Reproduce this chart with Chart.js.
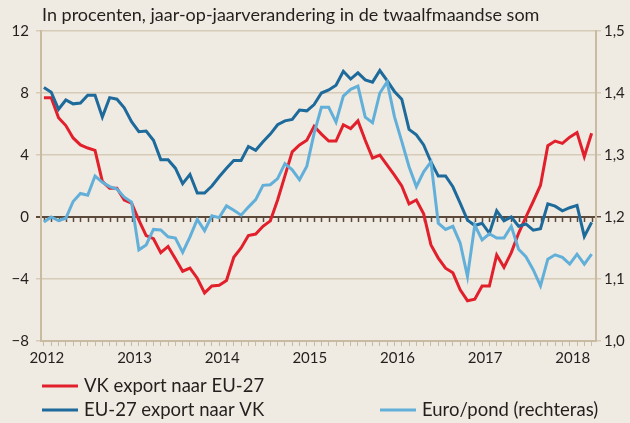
<!DOCTYPE html>
<html>
<head>
<meta charset="utf-8">
<script src="https://cdn.jsdelivr.net/npm/chart.js@4"></script>
<style>
  html, body { margin: 0; padding: 0; background: #efebe3; }
  canvas { display: block; }
</style>
</head>
<body>
<canvas id="chart" width="630" height="423"></canvas>
<script>
// maanden vanaf januari 2012 (index 0) t/m april 2018 (index 75)
const yearLabels = ["2012", "2013", "2014", "2015", "2016", "2017", "2018"];

const vkExport = [
  7.7, 7.7, 6.4, 5.9, 5.1, 4.65, 4.45, 4.3, 2.3, 1.85, 1.85, 1.1,
  0.9, -0.2, -1.2, -1.4, -2.3, -1.9, -2.7, -3.5, -3.3, -3.95, -4.9, -4.45,
  -4.4, -4.1, -2.6, -2.0, -1.2, -1.1, -0.6, -0.25, 1.1, 2.65, 4.2, 4.65,
  4.95, 5.85, 5.35, 4.9, 4.9, 5.95, 5.7, 6.2, 4.95, 3.8, 4.0, 3.35,
  2.7, 2.0, 0.85, 1.1, 0.2, -1.8, -2.65, -3.3, -3.6, -4.7, -5.4, -5.3,
  -4.45, -4.45, -2.45, -3.25, -2.3, -1.05, 0.0, 1.0, 2.05, 4.6, 4.9, 4.75,
  5.15, 5.45, 3.9, 5.4
];

const euExport = [
  8.35, 8.05, 6.95, 7.55, 7.3, 7.35, 7.85, 7.85, 6.45, 7.7, 7.6, 7.05,
  6.15, 5.5, 5.55, 4.95, 3.7, 3.7, 3.15, 2.15, 2.75, 1.55, 1.55, 2.0,
  2.6, 3.15, 3.65, 3.65, 4.55, 4.3, 4.85, 5.35, 5.95, 6.2, 6.3, 6.9,
  6.85, 7.25, 8.0, 8.2, 8.5, 9.4, 8.9, 9.3, 8.85, 8.7, 9.45, 8.8,
  8.1, 7.6, 5.65, 5.3, 4.65, 3.55, 2.65, 2.65, 1.95, 0.9, -0.2, -0.55,
  -0.4, -1.05, 0.4, -0.25, 0.0, -0.6, -0.45, -0.85, -0.75, 0.85, 0.7, 0.4,
  0.6, 0.75, -1.25, -0.35
];

// Euro/pond, rechteras
const euroPond = [
  1.192, 1.200, 1.194, 1.198, 1.225, 1.238, 1.235, 1.266, 1.256, 1.249, 1.245, 1.232,
  1.224, 1.147, 1.155, 1.180, 1.179, 1.168, 1.166, 1.143, 1.168, 1.196, 1.178, 1.202,
  1.199, 1.218, 1.211, 1.203, 1.216, 1.228, 1.251, 1.252, 1.262, 1.286, 1.276, 1.260,
  1.282, 1.335, 1.377, 1.377, 1.353, 1.395, 1.406, 1.411, 1.361, 1.352, 1.400, 1.418,
  1.362, 1.322, 1.281, 1.249, 1.273, 1.289, 1.190, 1.180, 1.185, 1.158, 1.104, 1.187,
  1.163, 1.173, 1.166, 1.166, 1.185, 1.148, 1.136, 1.115, 1.089, 1.132, 1.139, 1.135,
  1.124, 1.140, 1.124, 1.140
];

const seriesNames = ["VK export naar EU-27", "EU-27 export naar VK", "Euro/pond (rechteras)"];
const titleText = "In procenten, jaar-op-jaarverandering in de twaalfmaandse som";

const RED = "#e2202c";
const DARK = "#1d6a9b";
const LIGHT = "#62b0d9";
const GRID = "#d6cbb6";
const AXIS = "#c9bba1";
const ZERO = "#5b4a3c";
const TEXT = "#231f1c";
const FONT = "Lato, 'Noto Sans', sans-serif";

const toPoints = arr => arr.map((v, i) => ({ x: i, y: v }));

const decor = {
  id: "decor",
  beforeDraw(chart) {
    const c = chart.ctx;
    c.save();
    c.fillStyle = "#efebe3";
    c.fillRect(0, 0, chart.width, chart.height);
    c.restore();
  },
  beforeDatasetsDraw(chart) {
    // maandstreepjes onder de nullijn
    const c = chart.ctx;
    const x = chart.scales.x;
    const y0 = chart.scales.y.getPixelForValue(0);
    c.save();
    c.strokeStyle = ZERO;
    c.lineWidth = 1.5;
    c.beginPath();
    for (let m = 0; m < vkExport.length; m++) {
      const px = Math.round(x.getPixelForValue(m)) + 0.5;
      c.moveTo(px, y0);
      c.lineTo(px, y0 + 5);
    }
    c.stroke();
    c.restore();
  },
  afterDraw(chart) {
    const c = chart.ctx;
    c.save();
    c.fillStyle = TEXT;
    c.textBaseline = "middle";
    c.font = "18px " + FONT;
    c.fillText(titleText, 42, 15);

    const items = [
      { label: seriesNames[0], color: RED, x: 42, y: 386 },
      { label: seriesNames[1], color: DARK, x: 42, y: 410 },
      { label: seriesNames[2], color: LIGHT, x: 380, y: 410 },
    ];
    c.font = "18.5px " + FONT;
    items.forEach(it => {
      c.strokeStyle = it.color;
      c.lineWidth = 3;
      c.beginPath();
      c.moveTo(it.x, it.y);
      c.lineTo(it.x + 36, it.y);
      c.stroke();
      c.fillText(it.label, it.x + 42, it.y);
    });
    c.restore();
  }
};

new Chart(document.getElementById("chart"), {
  type: "line",
  data: {
    datasets: [
      { label: seriesNames[2], data: toPoints(euroPond), yAxisID: "y2", borderColor: LIGHT },
      { label: seriesNames[1], data: toPoints(euExport), yAxisID: "y", borderColor: DARK },
      { label: seriesNames[0], data: toPoints(vkExport), yAxisID: "y", borderColor: RED },
    ].map(d => Object.assign(d, { borderWidth: 3, pointRadius: 0, tension: 0, fill: false }))
  },
  options: {
    responsive: false,
    devicePixelRatio: 1,
    animation: false,
    layout: { padding: { top: 31, left: 0, right: 0, bottom: 0 } },
    plugins: { legend: { display: false }, tooltip: { enabled: false } },
    scales: {
      x: {
        type: "linear",
        min: -0.4,
        max: 75.6,
        afterBuildTicks: s => { s.ticks = vkExport.map((v, i) => ({ value: i })); },
        afterFit: s => { s.height = 82; },
        border: { color: AXIS, width: 2 },
        grid: { drawOnChartArea: false, color: AXIS, lineWidth: 1, tickLength: 5 },
        ticks: {
          autoSkip: false,
          maxRotation: 0,
          padding: 3,
          labelOffset: 3,
          color: TEXT,
          font: { family: FONT, size: 15 },
          callback: v => (v % 12 === 0 ? yearLabels[v / 12] : "")
        }
      },
      y: {
        position: "left",
        min: -8,
        max: 12,
        afterFit: s => { s.width = 41; },
        border: { color: AXIS, width: 2 },
        grid: {
          color: ctx => (ctx.tick && ctx.tick.value === 0 ? ZERO : GRID),
          lineWidth: ctx => (ctx.tick && ctx.tick.value === 0 ? 2 : 1.5),
          tickLength: 5
        },
        ticks: {
          stepSize: 4,
          padding: 7,
          color: TEXT,
          font: { family: FONT, size: 15 },
          callback: v => (v < 0 ? "\u2212" + Math.abs(v) : String(v))
        }
      },
      y2: {
        position: "right",
        min: 1.0,
        max: 1.5,
        afterFit: s => { s.width = 34; },
        border: { color: AXIS, width: 2 },
        grid: {
          drawOnChartArea: false,
          color: ctx => (ctx.tick && Math.abs(ctx.tick.value - 1.2) < 1e-6 ? ZERO : GRID),
          lineWidth: 1.5,
          tickLength: 5
        },
        ticks: {
          stepSize: 0.1,
          padding: 3,
          color: TEXT,
          font: { family: FONT, size: 15 },
          callback: v => v.toFixed(1).replace(".", ",")
        }
      }
    }
  },
  plugins: [decor]
});
</script>
</body>
</html>
